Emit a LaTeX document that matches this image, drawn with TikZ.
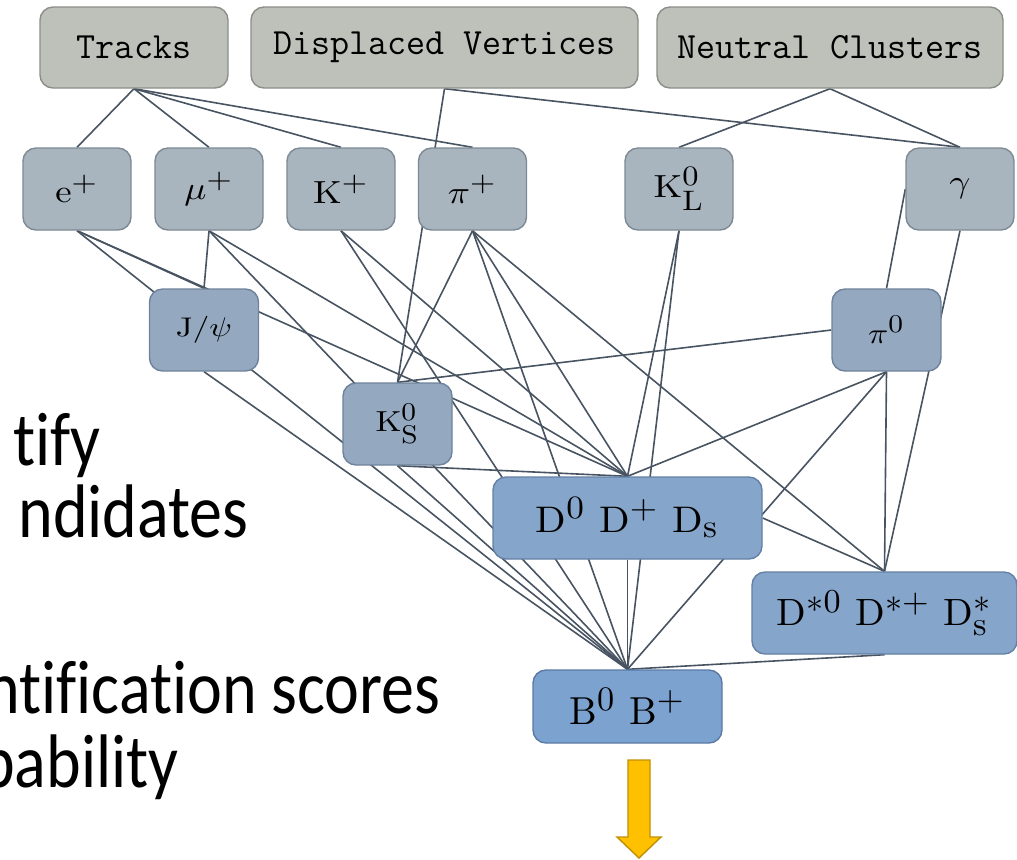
\documentclass[tikz,border=0pt]{standalone}
\usepackage{fontspec}
\usepackage{graphicx}
\newfontfamily\calfont[Ligatures=NoCommon]{Carlito}
\usetikzlibrary{backgrounds}
\definecolor{topfill}{RGB}{190,192,186}
\definecolor{topdraw}{RGB}{140,142,137}
\definecolor{pfill}{RGB}{168,180,190}
\definecolor{pdraw}{RGB}{125,137,148}
\definecolor{mfill}{RGB}{148,168,192}
\definecolor{mdraw}{RGB}{110,130,155}
\definecolor{dfill}{RGB}{134,165,202}
\definecolor{ddraw}{RGB}{100,128,165}
\definecolor{bfill}{RGB}{124,162,208}
\definecolor{bdraw}{RGB}{90,122,165}
\definecolor{edgec}{RGB}{72,84,98}
\definecolor{arrfill}{RGB}{255,192,0}
\definecolor{arrdraw}{RGB}{191,144,0}
% label: #1 horizontal scale, #2 vertical scale (of 10pt math), #3 math
\newcommand{\lab}[3]{\scalebox{#1}[#2]{\normalsize$#3$}}
\newcommand{\up}[1]{^{\mbox{\scalebox{0.88}{$#1$}}}}
\newcommand{\dn}[1]{_{\mbox{\scalebox{0.88}{$\mathrm{#1}$}}}}
\newcommand{\updn}[2]{^{\mbox{\scalebox{0.88}{$#1$}}}_{\mbox{\scalebox{0.88}{$\mathrm{#2}$}}}}
\newcommand{\sidebox}[1]{\scalebox{1}[1.15]{#1}}
\begin{document}
\begin{tikzpicture}[x=0.5pt,y=-0.5pt,
  box/.style={draw, rounded corners=6.5pt, line width=0.7pt, inner sep=0pt, align=center},
  srcbox/.style={box, fill=topfill, draw=topdraw, minimum height=40.5pt,
     font=\fontsize{18.5}{22}\selectfont\ttfamily},
  partbox/.style={box, fill=pfill, draw=pdraw, minimum width=54pt, minimum height=41pt},
  midbox/.style={box, fill=mfill, draw=mdraw, minimum width=54.5pt, minimum height=41pt},
  dbox/.style={box, fill=dfill, draw=ddraw, minimum height=41pt},
  bbox/.style={box, fill=bfill, draw=bdraw, minimum width=94.5pt, minimum height=36.5pt},
  edge/.style={draw=edgec, line width=0.8pt},
  sidetext/.style={inner sep=0pt, font=\fontsize{33}{40}\selectfont\calfont}]
\useasboundingbox (0,0) rectangle (1017,859);
\clip (0,0) rectangle (1017,859);

% source boxes
\node[srcbox, minimum width=94pt]    (Tr) at (134,47.5)  {Tracks};
\node[srcbox, minimum width=193.5pt] (DV) at (444.5,47.5) {Displaced Vertices};
\node[srcbox, minimum width=173pt]   (NC) at (830,47.5)  {Neutral Clusters};

% final state particles
\node[partbox] (e)   at (77,189)    {\lab{1.84}{1.6}{\mathrm{e}\up{+}}};
\node[partbox] (mu)  at (209,189)   {\lab{1.84}{1.6}{\mu\up{+}}};
\node[partbox] (K)   at (341,189)   {\lab{1.84}{1.6}{\mathrm{K}\up{+}}};
\node[partbox] (pi)  at (472.5,189) {\lab{1.84}{1.6}{\pi\up{+}}};
\node[partbox] (KL)  at (679,189)   {\lab{1.84}{1.6}{\mathrm{K}\updn{0}{L}}};
\node[partbox] (gam) at (960,189)   {\lab{1.84}{1.6}{\gamma}};

% intermediate
\node[midbox] (Jpsi) at (204,330)   {\lab{1.65}{1.35}{\mathrm{J}/\psi}};
\node[midbox] (pi0)  at (886.5,330) {\lab{1.67}{1.45}{\pi\up{0}}};
\node[midbox] (KS)   at (397.5,424) {\lab{1.67}{1.45}{\mathrm{K}\updn{0}{S}}};

\node[dbox, minimum width=134.5pt] (D)   at (627.5,518) {\lab{2.0}{1.85}{\mathrm{D}\up{0}\ \mathrm{D}\up{+}\ \mathrm{D}\dn{s}}};
\node[dbox, minimum width=132.5pt] (Dst) at (884.5,613) {\lab{1.94}{1.9}{\mathrm{D}\up{*0}\ \mathrm{D}\up{*+}\ \mathrm{D}\updn{*}{s}}};
\node[bbox] (B) at (627.5,706.5) {\lab{1.95}{1.95}{\mathrm{B}\up{0}\ \mathrm{B}\up{+}}};

% connectors
\begin{scope}[on background layer]
\draw[edge] (Tr.south) -- (e.north);
\draw[edge] (Tr.south) -- (mu.north);
\draw[edge] (Tr.south) -- (K.north);
\draw[edge] (Tr.south) -- (pi.north);
\draw[edge] (DV.south) -- (KS.north);
\draw[edge] (DV.south) -- (gam.north);
\draw[edge] (NC.south) -- (KL.north);
\draw[edge] (NC.south) -- (gam.north);
\draw[edge] (e.south) -- (Jpsi.north);
\draw[edge] (e.south) -- (D.north);
\draw[edge] (e.south) -- (B.north);
\draw[edge] (mu.south) -- (Jpsi.north);
\draw[edge] (mu.south) -- (D.north);
\draw[edge] (mu.south) -- (B.north);
\draw[edge] (K.south) -- (D.north);
\draw[edge] (K.south) -- (B.north);
\draw[edge] (pi.south) -- (KS.north);
\draw[edge] (pi.south) -- (D.north);
\draw[edge] (pi.south) -- (Dst.north);
\draw[edge] (pi.south) -- (B.north);
\draw[edge] (KL.south) -- (D.north);
\draw[edge] (KL.south) -- (B.north);
\draw[edge] (gam.west) -- (pi0.north);
\draw[edge] (gam.south) -- (Dst.north);
\draw[edge] (pi0.west) -- (KS.north);
\draw[edge] (pi0.south) -- (D.north);
\draw[edge] (pi0.south) -- (Dst.north);
\draw[edge] (pi0.south) -- (B.north);
\draw[edge] (Jpsi.south) -- (B.north);
\draw[edge] (KS.south) -- (D.north);
\draw[edge] (KS.south) -- (B.north);
\draw[edge] (D.east) -- (Dst.north);
\draw[edge] (D.south) -- (B.north);
\draw[edge] (Dst.south) -- (B.north);
\end{scope}

% output arrow
\fill[arrfill, draw=arrdraw, line width=0.7pt]
  (628,760) -- (650,760) -- (650,837) -- (661,837) -- (639,858) -- (617,837) -- (628,837) -- cycle;

% side text (cut at the left edge)
\node[sidetext, anchor=base east] (t1) at (101,465) {\sidebox{tify}};
\node[sidetext, anchor=base east] (t2) at (249,537) {\sidebox{ndidates}};
\node[sidetext, anchor=base east] (t3) at (441,713) {\sidebox{ntification scores}};
\node[sidetext, anchor=base east] (t4) at (179,787) {\sidebox{bability}};
\end{tikzpicture}
\end{document}
